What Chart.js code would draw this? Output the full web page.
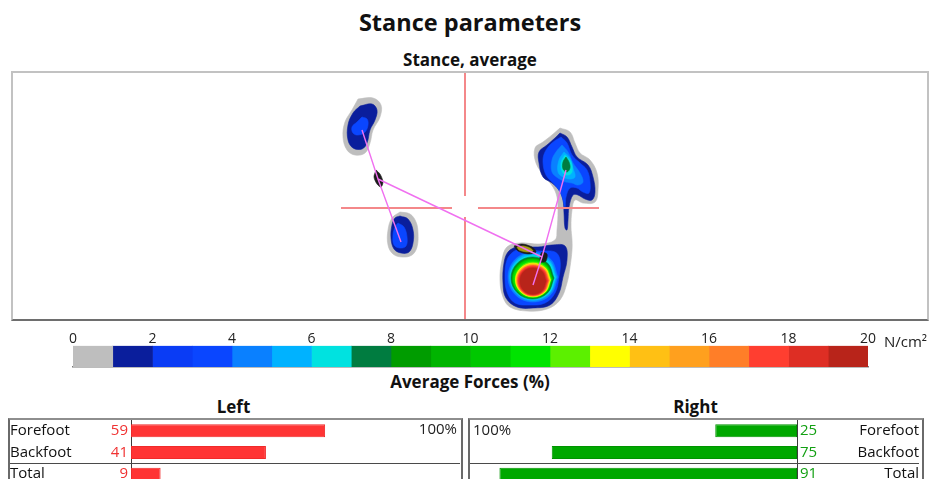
<!DOCTYPE html>
<html>
<head>
<meta charset="utf-8">
<script src="https://cdn.jsdelivr.net/npm/chart.js@4.4.1/dist/chart.umd.min.js"></script>
<style>
  html, body { margin: 0; padding: 0; background: #fff; }
  body { width: 931px; height: 479px; overflow: hidden; position: relative; font-family: 'Open Sans', sans-serif; color: #111; }
  .abs { position: absolute; }
  .head { left: 0; width: 940px; text-align: center; font-weight: bold; white-space: nowrap; }
  #stanceBox { left: 11px; top: 71px; width: 918px; height: 250px; box-sizing: border-box;
    border: 2px solid #c2c2c2; border-bottom-color: #6e6e6e; }
  #stance { position: absolute; left: 0; top: 0; }
  .table { top: 418px; height: 100px; box-sizing: border-box; border: 2px solid #6a6a6a; border-top-color: #8e8e8e; }
</style>
</head>
<body>
<div class="abs head" style="top:6px;font-size:23.5px;line-height:32px;">Stance parameters</div>
<div class="abs head" style="top:49px;font-size:17px;line-height:22px;">Stance, average</div>
<div class="abs" id="stanceBox"><canvas id="stance" width="914" height="246"></canvas></div>

<canvas class="abs" id="colorbar" width="835" height="41" style="left:53px;top:328px;"></canvas>
<div class="abs" style="left:884px;top:331px;font-size:15px;line-height:20px;color:#222;">N/cm²</div>
<div class="abs head" style="top:371px;font-size:17px;line-height:22px;">Average Forces (%)</div>

<div class="abs" style="left:0;width:467px;top:396px;text-align:center;font-weight:bold;font-size:17px;line-height:22px;">Left</div>
<div class="abs" style="left:464px;width:463px;top:396px;text-align:center;font-weight:bold;font-size:17px;line-height:22px;">Right</div>
<div class="abs table" style="left:8px;width:455px;"></div>
<div class="abs table" style="left:468px;width:456px;"></div>
<canvas class="abs" id="leftBars" width="450" height="65" style="left:10px;top:420px;"></canvas>
<canvas class="abs" id="rightBars" width="449" height="65" style="left:470px;top:420px;"></canvas>

<script>
// pressure scale in N/cm², one colour per 1 N/cm² step
const pressureEdges = [0, 1, 2, 3, 4, 5, 6, 7, 8, 9, 10, 11, 12, 13, 14, 15, 16, 17, 18, 19, 20];
const pressureColors = ['#bebebe', '#0a1e9c', '#0a3cf5', '#0a46ff', '#0a80ff', '#00b2ff', '#00e2e0',
  '#007c40', '#009c00', '#00b400', '#00c800', '#00e400', '#5cf000', '#ffff00', '#ffc014',
  '#ffa01e', '#ff7e28', '#ff3e30', '#de2e24', '#b8241a'];

// stance contours: [level, x1, y1, x2, y2, ...] in mm from the plate centre (y down)
const leftForefoot = [
  [0, -107,-109, -92,-110, -84,-103, -85,-91, -92,-78, -95,-65, -100,-55, -110,-53, -118,-58, -122,-71, -120,-86, -113,-98],
  [1, -105,-102, -93,-104, -88,-98, -90,-88, -95,-78, -98,-65, -103,-59, -112,-60, -117,-68, -117,-83, -112,-95],
  [3, -103,-91, -98,-89, -97,-83, -100,-76, -107,-73, -112,-75, -113,-81, -108,-86]
];
const leftHeel = [
  [0, -65,4, -55,6, -49,14, -47,25, -48,39, -53,47, -63,49, -72,46, -77,37, -77,22, -73,10],
  [1, -65,8, -57,11, -52,22, -52,35, -56,44, -64,45, -71,41, -74,30, -73,17, -70,10],
  [3, -67,15, -61,19, -58,29, -59,38, -65,40, -71,37, -72,27, -70,19]
];
const rightForefoot = [
  [0, 95,-80, 105,-76, 110,-65, 115,-55, 125,-48, 132,-35, 133,-18, 130,-6, 118,-5, 110,-8, 107,2, 106,19, 107,32,
      107,42, 105,59, 102,75, 95,92, 82,101, 62,103, 45,99, 38,89, 35,72, 37,52, 42,39, 55,35, 75,36, 90,32, 92,22,
      93,2, 92,-11, 88,-21, 80,-31, 71,-45, 70,-60, 78,-66, 87,-73],
  [1, 95,-75, 102,-71, 107,-61, 112,-51, 123,-43, 128,-31, 130,-16, 127,-8, 120,-9, 113,-13, 108,-13, 104,-1, 103,12,
      102,22, 100,20, 99,5, 98,-8, 94,-18, 87,-25, 78,-31, 74,-45, 74,-56, 82,-63, 90,-70],
  [3, 96,-71, 102,-65, 107,-53, 115,-45, 122,-38, 125,-26, 124,-15, 118,-16, 112,-20, 105,-20, 101,-11, 100,0, 98,-8,
      95,-16, 88,-25, 81,-33, 78,-46, 80,-56, 87,-65],
  [4, 97,-63, 103,-56, 108,-45, 115,-35, 118,-26, 113,-23, 107,-25, 101,-26, 93,-30, 87,-36, 87,-48, 91,-56],
  [5, 99,-56, 105,-50, 108,-40, 110,-31, 105,-29, 98,-31, 93,-36, 94,-48],
  [6, 100,-53, 106,-46, 107,-36, 103,-33, 98,-35, 96,-45],
  [7, 101,-51, 104,-46, 105,-40, 102,-36, 98,-39, 98,-46]
];
const rightHeel = [
  [1, 52,38, 73,39, 87,37, 100,38, 102,52, 98,69, 94,85, 85,97, 68,100, 52,99, 41,90, 38,75, 39,55, 43,44],
  [3, 55,41, 75,43, 90,44, 95,52, 94,69, 90,85, 80,95, 65,97, 50,95, 42,84, 40,67, 42,52, 48,44],
  [4, 93,69, 85.7,86.7, 68,94, 50.3,86.7, 43,69, 50.3,51.3, 68,44, 85.7,51.3],
  [5, 91.5,69, 84.6,85.6, 68,92.5, 51.4,85.6, 44.5,69, 51.4,52.4, 68,45.5, 84.6,52.4],
  [6, 90.5,69.5, 83.9,85.1, 68,91.5, 52.1,85.1, 45.5,69.5, 52.1,53.9, 68,47.5, 83.9,53.9],
  [7, 89,70, 82.7,84.8, 67.5,91, 52.3,84.8, 46,70, 52.3,55.2, 67.5,49, 82.7,55.2],
  [8, 88,70, 82,84.1, 67.5,90, 53,84.1, 47,70, 53,55.9, 67.5,50, 82,55.9],
  [10, 87.5,70.5, 81.6,84.1, 67.5,90, 53.4,84.1, 47.5,70.5, 53.4,56.9, 67.5,51, 81.6,56.9],
  [11, 86.5,71, 81,84, 67.5,89.5, 54,84, 48.5,71, 54,58, 67.5,52.5, 81,58],
  [12, 86,71.5, 80.7,84, 68,89, 55.3,84, 50,71.5, 55.3,59, 68,54, 80.7,59],
  [13, 85.5,72, 80.3,83.9, 68,88.8, 55.7,83.9, 50.5,72, 55.7,60.1, 68,55.2, 80.3,60.1],
  [14, 84.8,72, 79.9,83.5, 68,88.2, 56.1,83.5, 51.2,72, 56.1,60.5, 68,55.8, 79.9,60.5],
  [16, 84,72.5, 79.3,83.4, 68,88, 56.7,83.4, 52,72.5, 56.7,61.6, 68,57, 79.3,61.6],
  [17, 83.2,72.5, 78.7,83, 68,87.2, 57.3,83, 52.8,72.5, 57.3,62, 68,57.8, 78.7,62],
  [18, 82.2,73, 78,83, 68,87, 58,83, 53.8,73, 58,63, 68,59, 78,63],
  [19, 81,73, 77.2,82.5, 68,86.3, 58.8,82.5, 55,73, 58.8,63.5, 68,60, 77.2,63.5]
];
// small gait markers: [kind, x1, y1, ...]
const gaitMarks = [
  ['dark', -89,-38, -85,-34, -82,-26, -84,-21, -88,-24, -91,-31],
  ['dark', 49,38, 57,36, 67,39, 71,44, 63,46, 53,43],
  ['olive', 52,39, 58,38, 65,40, 68,43, 62,44, 54,42],
  ['dark', 77,44, 82,46, 81,53, 76,54, 75,48]
];
// centre of pressure path
const copLeft = [[-103, -78], [-87, -29], [-64, 34]];
const copShift = [[-87, -29], [77, 49]];
const copRight = [[101, -38], [77, 49], [68, 77]];
// plate centre cross
const crossLines = [
  [[0, -135], [0, -12]], [[0, 9], [0, 111]],
  [[-124, 0], [-13, 0]], [[13, 0], [134, 0]]
];

// average forces (%)
const zones = ['Forefoot', 'Backfoot', 'Total'];
const leftForces = [59, 41, 9];
const rightForces = [25, 75, 91];

Chart.defaults.font.family = "'Open Sans', sans-serif";
Chart.defaults.color = '#111';
Chart.defaults.animation = false;
Chart.defaults.plugins.legend.display = false;
Chart.defaults.plugins.tooltip.enabled = false;

const markColors = { dark: '#1c1c1c', olive: '#a89c10' };

function toPoints(row) {
  const pts = [];
  for (let i = 1; i < row.length; i += 2) pts.push({ x: row[i], y: row[i + 1] });
  pts.push(pts[0]);
  return pts;
}

function contourSets(rows) {
  return rows.map(row => ({
    data: toPoints(row),
    fill: 'shape',
    backgroundColor: pressureColors[row[0]],
    borderColor: pressureColors[row[0]],
    borderWidth: 0.6,
    pointRadius: 0,
    tension: 0.38,
    order: 40 - row[0]
  }));
}

function pathSet(pairs, color, width, order) {
  return {
    data: pairs.map(p => ({ x: p[0], y: p[1] })),
    fill: false,
    borderColor: color,
    borderWidth: width,
    pointRadius: 0,
    tension: 0,
    order
  };
}

const stanceSets = [
  ...contourSets(leftForefoot),
  ...contourSets(leftHeel),
  ...contourSets(rightForefoot),
  ...contourSets(rightHeel),
  ...gaitMarks.map(m => ({
    data: toPoints(m), fill: 'shape', backgroundColor: markColors[m[0]], borderColor: markColors[m[0]],
    borderWidth: 0.6, pointRadius: 0, tension: 0.3, order: m[0] === 'olive' ? 9 : 10
  })),
  ...crossLines.map(l => pathSet(l, '#f4888a', 2, 5)),
  pathSet(copLeft, '#f070f0', 1.4, 1),
  pathSet(copShift, '#f070f0', 1.4, 1),
  pathSet(copRight, '#f070f0', 1.4, 1)
];

new Chart(document.getElementById('stance'), {
  type: 'line',
  data: { datasets: stanceSets },
  options: {
    responsive: false,
    events: [],
    layout: { padding: 0 },
    scales: {
      x: { type: 'linear', min: -452, max: 462, display: false },
      y: { type: 'linear', min: -135, max: 111, reverse: true, display: false }
    }
  }
});

// colour scale bar
new Chart(document.getElementById('colorbar'), {
  type: 'bar',
  data: {
    labels: ['p'],
    datasets: pressureColors.map((c, i) => ({
      data: [[pressureEdges[i], pressureEdges[i + 1]]],
      backgroundColor: c,
      borderWidth: 0,
      grouped: false,
      barPercentage: 1,
      categoryPercentage: 1
    }))
  },
  options: {
    indexAxis: 'y',
    responsive: false,
    events: [],
    layout: { padding: { left: 20, right: 20, top: 5, bottom: 2 } },
    scales: {
      x: {
        type: 'linear', position: 'top', min: 0, max: 20,
        ticks: { stepSize: 2, padding: -2, color: '#222', font: { size: 14 } },
        grid: { display: false, drawTicks: false },
        border: { display: false }
      },
      x2: {
        type: 'linear', position: 'bottom', min: 0, max: 20,
        ticks: { display: false },
        grid: { display: false, drawTicks: false },
        border: { display: true, color: '#7a7a7a', width: 1.5 }
      },
      y: { display: false }
    }
  }
});

// divider between the zone rows and the total row, plus the 100% mark
const tableDecor = {
  id: 'tableDecor',
  afterDraw(chart, args, opts) {
    const { ctx, chartArea, scales } = chart;
    const y = Math.round((scales.y.getPixelForValue(1) + scales.y.getPixelForValue(2)) / 2) + 0.5;
    ctx.save();
    ctx.strokeStyle = '#4a4a4a';
    ctx.lineWidth = 1;
    ctx.beginPath();
    ctx.moveTo(0, y);
    ctx.lineTo(chart.width, y);
    ctx.stroke();
    ctx.fillStyle = '#222';
    ctx.font = "15px 'Open Sans', sans-serif";
    ctx.textBaseline = 'top';
    const xFull = scales.x.getPixelForValue(100);
    if (opts.side === 'left') {
      ctx.textAlign = 'right';
      ctx.fillText('100%', xFull - 3, chartArea.top + 2);
    } else {
      ctx.textAlign = 'left';
      ctx.fillText('100%', xFull + 3, chartArea.top + 3);
    }
    ctx.restore();
  }
};

// keep the category rows filling the whole canvas height
function fixAxis(width) {
  return s => { s.width = width; s.paddingTop = 0; s.paddingBottom = 0; };
}

function forceChart(id, values, side, color, edge, valueColor) {
  const pos = side === 'left' ? 'left' : 'right';
  return new Chart(document.getElementById(id), {
    type: 'bar',
    data: {
      labels: zones,
      datasets: [{
        data: values,
        backgroundColor: color,
        borderColor: edge,
        borderWidth: 1,
        borderSkipped: false,
        barPercentage: 0.6,
        categoryPercentage: 1
      }]
    },
    plugins: [tableDecor],
    options: {
      indexAxis: 'y',
      responsive: false,
      events: [],
      layout: { padding: 0 },
      plugins: { tableDecor: { side } },
      scales: {
        x: { type: 'linear', min: 0, max: 100, reverse: side !== 'left', display: false },
        y: {
          type: 'category', position: pos, offset: true, weight: 0,
          ticks: { autoSkip: false, callback: (v, i) => String(values[i]), color: valueColor, font: { size: 15 }, padding: 3, crossAlign: 'near' },
          grid: { display: false, drawTicks: false },
          border: { display: true, color: '#3c3c3c', width: 1 },
          afterFit: fixAxis(40)
        },
        names: {
          type: 'category', position: pos, offset: true, weight: 1,
          ticks: { autoSkip: false, color: '#111', font: { size: 15 }, padding: 0, crossAlign: 'far' },
          grid: { display: false, drawTicks: false },
          border: { display: false },
          afterFit: fixAxis(side === 'left' ? 81 : 82)
        }
      }
    }
  });
}

forceChart('leftBars', leftForces, 'left', '#ff3434', '#f02a2a', '#f03232');
forceChart('rightBars', rightForces, 'right', '#00a800', '#009400', '#12a012');
</script>
</body>
</html>
